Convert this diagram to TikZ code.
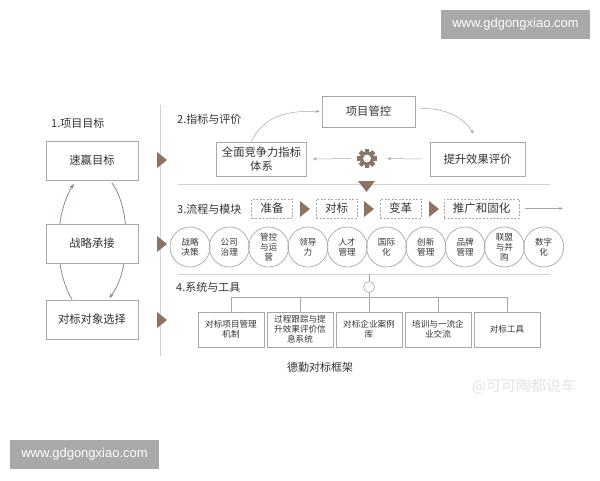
\documentclass[tikz,border=0pt]{standalone}
\usepackage{fontspec}
\setmainfont{Noto Sans CJK SC}
\newfontfamily\urlfont{Liberation Sans}
\usetikzlibrary{arrows.meta}
\definecolor{brun}{HTML}{8C7363}
\definecolor{trait}{HTML}{A8A8A8}
\definecolor{texte}{HTML}{333333}
\definecolor{filetc}{HTML}{D2D2D2}
\definecolor{bandeau}{HTML}{A9A9A9}
\definecolor{arcc}{HTML}{97877D}
\tikzset{
  boite/.style={draw=trait, line width=0.8pt, fill=white, text=texte, align=center, inner sep=0pt, font=\fontsize{11.3}{14}\selectfont},
  etape/.style={draw=trait, dashed, dash pattern=on 2pt off 1.5pt, line width=0.7pt, text=texte, inner sep=0pt, minimum height=19pt, font=\fontsize{11.5}{13}\selectfont},
  rond/.style={circle, draw=trait, line width=0.7pt, minimum size=40pt, inner sep=0pt, align=center, text=texte, font=\fontsize{8.6}{10}\selectfont},
  outil/.style={boite, minimum width=66pt, minimum height=35pt, font=\fontsize{8.6}{10}\selectfont},
  titre/.style={anchor=west, inner sep=0pt, text=texte, font=\fontsize{11}{13}\selectfont},
  fleche/.style={-{Stealth[length=4pt,width=3pt]}, draw=gray!70, line width=0.5pt},
  arc/.style={-{Stealth[length=5pt,width=4pt]}, draw=arcc, line width=0.8pt},
  filet/.style={draw=filetc, line width=1pt},
  lien/.style={draw=trait, line width=0.6pt},
  url/.style={fill=bandeau, text=white, minimum width=149pt, minimum height=29pt, font=\urlfont\fontsize{13}{15}\selectfont},
  tri/.pic={\fill[brun] (0,-8) -- (10,0) -- (0,8) -- cycle;},
  roue/.pic={
    \foreach \a in {0,45,...,315}
      \fill[brun, rotate=\a] (-2.2,5) rectangle (2.2,9.6);
    \fill[brun] (0,0) circle (7.2);
    \fill[white] (0,0) circle (3.9);}
}
\begin{document}
\begin{tikzpicture}[x=1pt, y=-1pt]
  \useasboundingbox (0,0) rectangle (600,480);
  % bandeaux du site
  \node[url] (url1) at (515.5,24.5) {www.gdgongxiao.com};
  \node[url] (url2) at (84.5,454.5) {www.gdgongxiao.com};
  % colonne de gauche
  \node[titre] (t1) at (51,123) {1.项目目标};
  \node[boite, minimum width=92pt, minimum height=39pt] (sy) at (92,160.5) {速赢目标};
  \node[boite, minimum width=92pt, minimum height=39pt] (dx) at (92,319.5) {对标对象选择};
  \draw[arc, shorten >=4pt] ([xshift=-20pt]dx.north) .. controls (52,265) and (56,212) .. ([xshift=-16pt]sy.south);
  \draw[arc, shorten <=3pt, shorten >=2pt] ([xshift=18pt]sy.south) .. controls (132,210) and (130,272) .. ([xshift=16pt]dx.north);
  \node[boite, minimum width=92pt, minimum height=39pt] (zl) at (92,243.5) {战略承接};
  \draw[filet] (160,105) -- (160,356);
  \pic at (157,160) {tri};
  \pic at (157,244) {tri};
  \pic at (157,320) {tri};
  % 2. indicateurs
  \node[titre] (t2) at (177,119) {2.指标与评价};
  \node[boite, minimum width=93pt, minimum height=31pt] (pc) at (368.5,111.5) {项目管控};
  \node[boite, minimum width=90pt, minimum height=34pt] (ic) at (261.5,159) {全面竞争力指标\\体系};
  \node[boite, minimum width=95pt, minimum height=34pt] (ev) at (477.5,159) {提升效果评价};
  \node[minimum size=20pt, inner sep=0pt] (roue) at (367,158.5) {};
  \pic at (roue) {roue};
  \draw[fleche] ([xshift=-10pt]ic.north) .. controls (262,118) and (285,110) .. ([xshift=-2pt]pc.west);
  \draw[fleche] ([xshift=5pt,yshift=3pt]pc.east) .. controls (450,108) and (465,120) .. ([xshift=-4pt,yshift=8pt]ev.north);
  \draw[fleche, shorten <=7pt, shorten >=10pt] (ev.west) -- (roue.east);
  \draw[fleche, shorten <=6pt, shorten >=6pt] (roue.west) -- (ic.east);
  \draw[filet] (178,184) -- (550,184);
  \fill[brun] (358,181) -- (375,181) -- (366.5,192) -- cycle;
  % 3. processus et modules
  \node[titre] (t3) at (177,209.5) {3.流程与模块};
  \node[etape, minimum width=41pt] (pr) at (272,208.5) {准备};
  \node[etape, minimum width=41pt] (db) at (336.5,208.5) {对标};
  \node[etape, minimum width=41pt] (bg) at (400.5,208.5) {变革};
  \node[etape, minimum width=75pt] (tg) at (481.5,208.5) {推广和固化};
  \pic at (300,209) {tri};
  \pic at (364,209) {tri};
  \pic at (429,209) {tri};
  \coordinate (fin) at (563,208.5);
  \draw[fleche, shorten <=6pt] (tg.east) -- (fin);
  \foreach \t [count=\i from 0] in {{战略\\决策},{公司\\治理},{管控\\与运\\营},{领导\\力},{人才\\管理},{国际\\化},{创新\\管理},{品牌\\管理},{联盟\\与并\\购},{数字\\化}}
    \node[rond] (m\i) at ({190+39.3*\i},247) {\t};
  \draw[filet] (178,274) -- (550,274);
  % 4. systemes et outils
  \node[titre] (t4) at (176,287) {4.系统与工具};
  \foreach \t [count=\i from 0] in {{对标项目管理\\机制},{过程跟踪与提\\升效果评价信\\息系统},{对标企业案例\\库},{培训与一流企\\业交流},{对标工具}}
    \node[outil] (o\i) at ({231+69*\i},329.5) {\t};
  \node[circle, draw=trait, line width=0.6pt, minimum size=11pt, inner sep=0pt] (nd) at (369,287) {};
  \draw[lien] (o0.north) -- ++(0,-14) -| (o4.north);
  \foreach \i in {1,3}
    \draw[lien] (o\i.north) -- ++(0,-14);
  \draw[lien] (nd.south) -- (o2.north);
  \draw[lien] (nd.north) -- (369,274);
  \node[text=texte, font=\fontsize{11}{13}\selectfont] (cap) at (320,367) {德勤对标框架};
  \node[text=gray!22, font=\fontsize{15}{17}\selectfont] (wm) at (524,386) {@可可陶都说车};
\end{tikzpicture}
\end{document}
